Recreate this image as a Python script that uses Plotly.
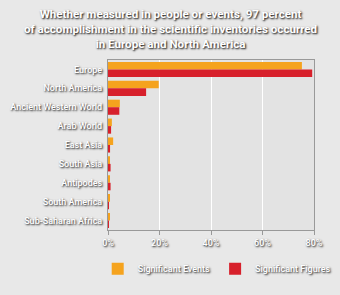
import plotly.graph_objects as go

categories = ["Europe", "North America", "Ancient Western World", "Arab World", "East Asia",
              "South Asia", "Antipodes", "South America", "Sub-Saharan Africa"]
events = [75.3, 19.7, 4.6, 1.5, 2.0, 0.4, 0.4, 0.5, 0.4]
figures = [79.3, 14.8, 4.4, 1.2, 0.8, 1.0, 1.0, 0.3, 0.1]
tick_vals = [0, 20, 40, 60, 80]
tick_text = ["0%", "20%", "40%", "60%", "80%"]
title_text = ("Whether measured in people or events, 97 percent<br>"
              "of accomplishment in the scientific inventories occurred<br>"
              "in Europe and North America")

shadow = "1px 1px 2px #111"
fig = go.Figure()
fig.add_trace(go.Bar(y=categories, x=events, orientation="h", name="Significant Events",
                     marker=dict(color="#F5A31E", line=dict(width=0))))
fig.add_trace(go.Bar(y=categories, x=figures, orientation="h", name="Significant Figures",
                     marker=dict(color="#D7202B", line=dict(width=0))))

fig.add_annotation(text=title_text, xref="paper", yref="paper",
                   x=(170 - 108) / 206, y=(230 - 29) / 170, xanchor="center", yanchor="middle",
                   showarrow=False, align="center",
                   font=dict(family="Roboto", size=11.6, color="white",
                             shadow="1px 1px 2px #000", weight=700))

fig.update_layout(
    width=340, height=295,
    margin=dict(l=108, r=26, t=60, b=65, autoexpand=False),
    paper_bgcolor="#e8e8e8",
    plot_bgcolor="#e3e3e3",
    font=dict(family="Roboto", size=9, color="white", shadow=shadow, weight=500),
    barmode="group", bargap=0.2, bargroupgap=0,
    showlegend=True,
    legend=dict(orientation="h", xref="paper", x=-0.05, xanchor="left",
                yref="paper", y=-0.142, yanchor="top",
                font=dict(size=9, color="white", shadow=shadow), itemwidth=30,
                bgcolor="rgba(0,0,0,0)"),
    xaxis=dict(range=[0, 80], tickvals=tick_vals, ticktext=tick_text,
               showgrid=True, gridcolor="white", gridwidth=1.2,
               showline=True, linecolor="#999", mirror=True,
               ticks="outside", ticklen=4, tickcolor="#999", zeroline=False),
    yaxis=dict(autorange="reversed", showgrid=False, showline=True, linecolor="#999",
               mirror=True, ticks="", ticklabelstandoff=3),
)
fig.write_html("out.html")
